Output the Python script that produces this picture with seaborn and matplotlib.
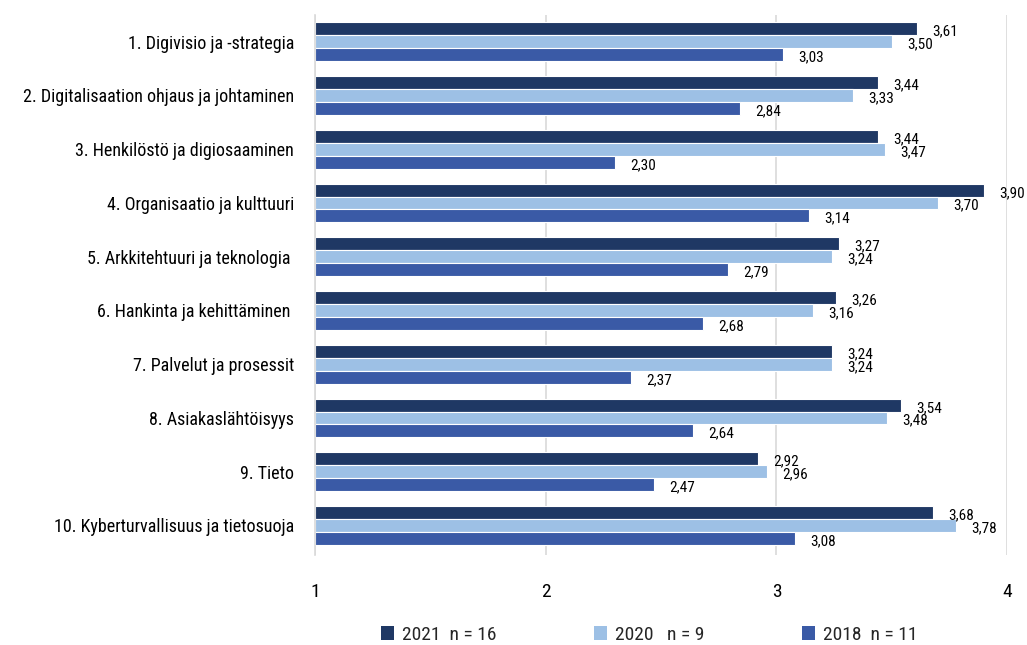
import matplotlib
matplotlib.use("Agg")
import matplotlib.pyplot as plt
from matplotlib.patches import Patch
import seaborn as sns
import pandas as pd

categories = [
    "1. Digivisio ja -strategia",
    "2. Digitalisaation ohjaus ja johtaminen",
    "3. Henkilöstö ja digiosaaminen",
    "4. Organisaatio ja kulttuuri",
    "5. Arkkitehtuuri ja teknologia ",
    "6. Hankinta ja kehittäminen ",
    "7. Palvelut ja prosessit",
    "8. Asiakaslähtöisyys",
    "9. Tieto",
    "10. Kyberturvallisuus ja tietosuoja",
]
years = ["2021", "2020", "2018"]
legend_labels = ["2021  n = 16", "2020   n = 9", "2018  n = 11"]
values_2021 = [3.61, 3.44, 3.44, 3.90, 3.27, 3.26, 3.24, 3.54, 2.92, 3.68]
values_2020 = [3.50, 3.33, 3.47, 3.70, 3.24, 3.16, 3.24, 3.48, 2.96, 3.78]
values_2018 = [3.03, 2.84, 2.30, 3.14, 2.79, 2.68, 2.37, 2.64, 2.47, 3.08]
x_ticks = [1, 2, 3, 4]

colors = {"2021": "#1F3864", "2020": "#9DC0E5", "2018": "#3A5AA6"}

rows = []
for year, vals in zip(years, [values_2021, values_2020, values_2018]):
    for cat, v in zip(categories, vals):
        rows.append({"category": cat, "year": year, "value": v})
df = pd.DataFrame(rows)

sns.set_theme(style="white")
plt.rcParams["font.family"] = ["Roboto Condensed", "Lato", "DejaVu Sans"]

fig = plt.figure(figsize=(10.27, 6.45), dpi=100)
ax = fig.add_axes([0.3067, 0.1395, 0.674, 0.8375])

sns.barplot(data=df, y="category", x="value", hue="year", order=categories,
            hue_order=years, palette=colors, orient="h", width=0.72,
            saturation=1, edgecolor="white", linewidth=0.8, legend=False, ax=ax)

# Bars start at 1: shift each bar so it spans from 1 to its value
for container in ax.containers:
    for bar in container:
        w = bar.get_width()
        bar.set_x(1)
        bar.set_width(w - 1)

ax.set_xlim(1, 4)
ax.set_xticks(x_ticks)
ax.set_xticklabels([str(t) for t in x_ticks], fontsize=14, color="black")
ax.tick_params(axis="x", length=0, pad=20)
ax.tick_params(axis="y", length=0, pad=15, labelsize=13, labelcolor="black")
ax.set_xlabel("")
ax.set_ylabel("")
ax.set_ylim(9.55, -0.5)

ax.grid(axis="x", color="#D9D9D9", linewidth=1.2)
ax.set_axisbelow(True)
for s in ["top", "right", "bottom"]:
    ax.spines[s].set_visible(False)
ax.spines["left"].set_color("#D9D9D9")
ax.spines["left"].set_linewidth(1.2)

# Value labels
for container, vals in zip(ax.containers, [values_2021, values_2020, values_2018]):
    for bar, v in zip(container, vals):
        y = bar.get_y() + bar.get_height() / 2
        ax.annotate(f"{v:.2f}".replace(".", ","), xy=(v, y),
                    xytext=(11, -2), textcoords="offset points",
                    ha="left", va="center", fontsize=11, color="black",
                    annotation_clip=False)

handles = [Patch(facecolor=colors[y], edgecolor="none") for y in years]
fig.legend(handles, legend_labels, loc="lower center", ncol=3,
           bbox_to_anchor=(0.632, -0.025), frameon=False, fontsize=14,
           handlelength=0.7, handleheight=0.7, handletextpad=0.4,
           columnspacing=5.0)

fig.savefig("out.png", dpi=100)
